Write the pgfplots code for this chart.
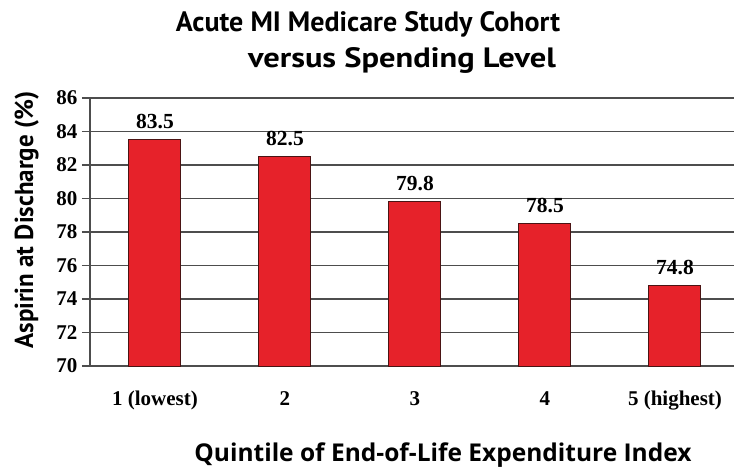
\documentclass[border=0pt]{standalone}
\usepackage{fontspec}
\usepackage{pgfplots}
\pgfplotsset{compat=1.18}
\setmainfont{Liberation Serif}
\newfontfamily\numfont{Liberation Serif}
\newfontfamily\titlefont{PT Sans}
\newfontfamily\titlewide[FakeStretch=1.16]{PT Sans}
\newfontfamily\ylabfont[FakeStretch=0.96]{PT Sans}
\newfontfamily\labfont{Open Sans}
\definecolor{barred}{HTML}{E6222A}
\definecolor{baredge}{HTML}{4A1414}
\definecolor{gridc}{HTML}{4D4D4D}

\begin{document}
\begin{tikzpicture}
\useasboundingbox (0,0) rectangle (734pt,469pt);
\begin{axis}[
    at={(90pt,103pt)}, anchor=south west,
    scale only axis, width=644pt, height=268pt,
    xmin=0.5, xmax=5.454,
    ymin=70, ymax=86,
    ytick={70,72,...,86},
    xtick={1,2,3,4,5},
    xticklabels={1 (lowest),2,3,4,5 (highest)},
    extra x ticks={1.5,2.5,3.5,4.5},
    extra x tick labels={},
    extra x tick style={major tick length=7pt, tick style={gridc, line width=1.2pt}},
    major x tick style={draw=none},
    tick align=outside,
    major tick length=8pt,
    tick style={gridc, line width=1.2pt},
    axis x line*=bottom, axis y line*=left,
    axis line style={gridc, line width=1.2pt, -},
    ymajorgrids,
    grid style={gridc, line width=1.2pt},
    /pgf/number format/assume math mode=true,
    yticklabel style={font=\numfont\bfseries\fontsize{21}{23}\selectfont, xshift=-1pt},
    xticklabel style={font=\numfont\bfseries\fontsize{21}{23}\selectfont, anchor=base, yshift=-31pt},
    ybar, bar width=0.4,
    nodes near coords,
    nodes near coords style={font=\numfont\bfseries\fontsize{21.5}{23}\selectfont,
        anchor=base, yshift=11pt,
        /pgf/number format/.cd, fixed, precision=1, fixed zerofill, assume math mode=true},
    clip=false,
]
\addplot[fill=barred, draw=baredge, line width=1pt] coordinates {
  (1,83.5) (2,82.5) (3,79.8) (4,78.5) (5,74.8)
};
\end{axis}
\node[anchor=base, font=\titlefont\bfseries\fontsize{28}{30}\selectfont] at (368pt,437pt) {Acute MI Medicare Study Cohort};
\node[anchor=base, font=\titlewide\bfseries\fontsize{28}{30}\selectfont] at (402pt,401pt) {versus Spending Level};
\node[anchor=base, rotate=90, font=\ylabfont\bfseries\fontsize{26}{28}\selectfont] at (33pt,249pt) {Aspirin at Discharge (\%)};
\node[anchor=base, font=\labfont\bfseries\fontsize{24.5}{26}\selectfont] at (443pt,8pt) {Quintile of End-of-Life Expenditure Index};
\end{tikzpicture}
\end{document}
